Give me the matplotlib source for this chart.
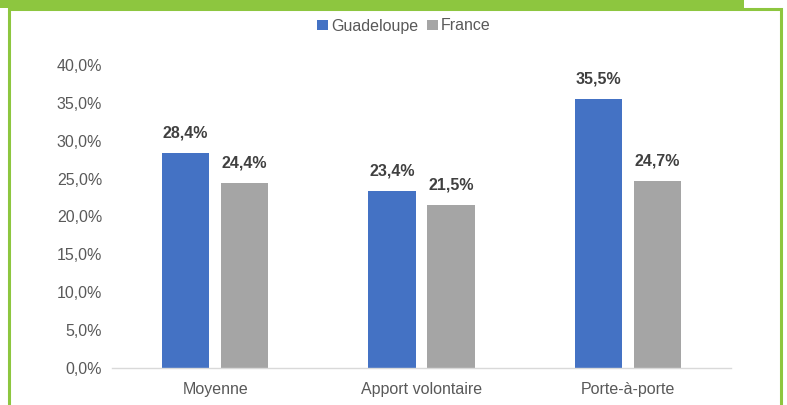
import matplotlib
matplotlib.use("Agg")
import matplotlib.pyplot as plt
from matplotlib.patches import Rectangle
import numpy as np

plt.rcParams['font.family'] = ['Liberation Sans', 'DejaVu Sans']

categories = ["Moyenne", "Apport volontaire", "Porte-à-porte"]
guadeloupe = [28.4, 23.4, 35.5]
france = [24.4, 21.5, 24.7]
series_names = ["Guadeloupe", "France"]
yticks = [0, 5, 10, 15, 20, 25, 30, 35, 40]

blue = "#4472C4"
grey = "#A5A5A5"
green = "#8DC63F"

W, H = 787, 405
fig = plt.figure(figsize=(W / 100, H / 100), dpi=100)
fig.patch.set_facecolor("white")

# green frame
fig.patches.append(Rectangle((0, 1 - 8 / H), 744 / W, 8 / H, transform=fig.transFigure,
                             facecolor=green, edgecolor="none", zorder=0))
fig.patches.append(Rectangle((9 / W, -0.01), (781 - 9) / W, (H - 9) / H + 0.01,
                             transform=fig.transFigure, facecolor="none",
                             edgecolor=green, linewidth=2.2, zorder=0))

ax = fig.add_axes([112 / W, 37 / H, (731 - 112) / W, (368 - 65) / H])
x = np.arange(len(categories))
bw = 0.228
off = 0.143
b1 = ax.bar(x - off, guadeloupe, bw, color=blue, label=series_names[0], zorder=2)
b2 = ax.bar(x + off, france, bw, color=grey, label=series_names[1], zorder=2)

for bars, vals in ((b1, guadeloupe), (b2, france)):
    for r, v in zip(bars, vals):
        ax.annotate(f"{v:.1f}%".replace(".", ","), (r.get_x() + r.get_width() / 2, v),
                    xytext=(0, 9), textcoords="offset points", ha="center", va="bottom",
                    fontsize=11.5, fontweight="bold", color="#404040")

ax.set_xlim(-0.5, 2.5)
ax.set_ylim(0, 40)
ax.set_yticks(yticks)
ax.set_yticklabels([f"{t:.1f}%".replace(".", ",") for t in yticks])
ax.set_xticks(x)
ax.set_xticklabels(categories)
ax.tick_params(axis="both", length=0, labelsize=11.5, colors="#595959")
ax.tick_params(axis="y", pad=7)
ax.tick_params(axis="x", pad=10)
for s in ("top", "right", "left"):
    ax.spines[s].set_visible(False)
ax.spines["bottom"].set_color("#D9D9D9")
ax.spines["bottom"].set_linewidth(1)

leg = fig.legend(handles=[b1, b2], labels=series_names, loc="center",
                 bbox_to_anchor=(404 / W, 1 - 26 / H), ncol=2, frameon=False,
                 fontsize=11.5, handlelength=0.65, handleheight=0.65,
                 handletextpad=0.2, columnspacing=0.6)
for t in leg.get_texts():
    t.set_color("#595959")

fig.savefig("out.png", dpi=100, facecolor="white")
